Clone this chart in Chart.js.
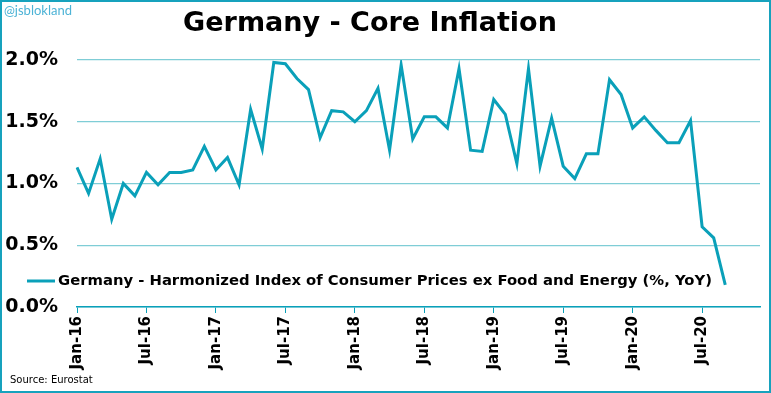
<!DOCTYPE html>
<html>
<head>
<meta charset="utf-8">
<script src="https://cdn.jsdelivr.net/npm/chart.js@4/dist/chart.umd.min.js"></script>
<style>
  html, body { margin: 0; padding: 0; background: #fff; }
  #wrap { position: relative; width: 771px; height: 393px; }
  #chart { position: absolute; left: 0; top: 0; }
  #frame { position: absolute; left: 0; top: 0; width: 771px; height: 393px; box-sizing: border-box; border: 2px solid #17a2bd; pointer-events: none; }
  #handle { position: absolute; left: 4px; top: 2px; font: 13px Lato, sans-serif; color: #4db3d6; }
  #title { position: absolute; left: 170px; width: 400px; top: 4px; text-align: center; font: bold 27px "DejaVu Sans", sans-serif; line-height: 36px; color: #000; }
  #source { position: absolute; left: 10px; top: 374px; font: 10px "DejaVu Sans", sans-serif; color: #000; }
</style>
</head>
<body>
<div id="wrap">
  <canvas id="chart" width="771" height="393"></canvas>
  <div id="frame"></div>
  <div id="handle">@jsblokland</div>
  <div id="title">Germany - Core Inflation</div>
  <div id="source">Source: Eurostat</div>
</div>
<script>
// DATA
const years = ["16", "17", "18", "19", "20"];
const monthNames = ["Jan","Feb","Mar","Apr","May","Jun","Jul","Aug","Sep","Oct","Nov","Dec"];
const coreInflation = [
  1.13, 0.92, 1.20, 0.71, 1.00, 0.90, 1.09, 0.99, 1.09, 1.09, 1.11, 1.30,  // 2016
  1.11, 1.21, 0.99, 1.60, 1.28, 1.98, 1.97, 1.85, 1.76, 1.37, 1.59, 1.58,  // 2017
  1.50, 1.59, 1.77, 1.27, 1.96, 1.36, 1.54, 1.54, 1.45, 1.93, 1.27, 1.26,  // 2018
  1.68, 1.56, 1.16, 1.93, 1.14, 1.53, 1.14, 1.04, 1.24, 1.24, 1.84, 1.72,  // 2019
  1.45, 1.54, 1.43, 1.33, 1.33, 1.51, 0.65, 0.56, 0.18                     // 2020
];
const yTicks = [0, 0.5, 1.0, 1.5, 2.0];
const seriesName = "Germany - Harmonized Index of Consumer Prices ex Food and Energy (%, YoY)";

// month labels Jan-16 .. Dec-20
let months = [];
years.forEach(y => monthNames.forEach(m => months.push(m + "-" + y)));

const TEAL = "#0aa0b9";
const GRID = "#7fcdd6";

// LEGEND drawn inside the plot, bottom left
const legendInside = {
  id: "legendInside",
  afterDraw(chart) {
    const ctx = chart.ctx;
    ctx.save();
    ctx.strokeStyle = TEAL;
    ctx.lineWidth = 3;
    ctx.beginPath();
    ctx.moveTo(27, 281);
    ctx.lineTo(55, 281);
    ctx.stroke();
    ctx.fillStyle = "#000";
    ctx.font = "bold 14.8px 'DejaVu Sans'";
    ctx.textBaseline = "middle";
    ctx.fillText(seriesName, 58, 281);
    ctx.restore();
  }
};

new Chart(document.getElementById("chart"), {
  type: "line",
  data: {
    labels: months,
    datasets: [{
      label: seriesName,
      data: coreInflation,
      borderColor: TEAL,
      borderWidth: 3,
      pointRadius: 0,
      tension: 0,
      fill: false
    }]
  },
  options: {
    responsive: false,
    animation: false,
    layout: { padding: { top: 60, right: 11, bottom: 0, left: 0 } },
    plugins: {
      legend: { display: false },
      tooltip: { enabled: false },
      title: { display: false }
    },
    scales: {
      x: {
        offset: false,
        grid: { drawOnChartArea: false, drawTicks: true, tickLength: 6, color: TEAL },
        border: { display: true, color: TEAL, width: 1.5 },
        ticks: {
          autoSkip: false,
          maxRotation: 90,
          minRotation: 90,
          padding: 3,
          color: "#000",
          font: { family: "'DejaVu Sans'", size: 15, weight: "bold" },
          callback: (v, i) => (i % 6 === 0 ? months[i] : null)
        },
        afterFit(scale) { scale.height = 86; }
      },
      y: {
        min: 0,
        max: 2.0,
        afterBuildTicks(scale) { scale.ticks = yTicks.map(v => ({ value: v })); },
        grid: { drawTicks: false, color: GRID, lineWidth: 1.2 },
        border: { display: false },
        ticks: {
          padding: 19,
          color: "#000",
          font: { family: "'DejaVu Sans'", size: 19, weight: "bold" },
          callback: v => v.toFixed(1) + "%"
        },
        afterFit(scale) { scale.width = 77; }
      }
    }
  },
  plugins: [legendInside]
});
</script>
</body>
</html>
